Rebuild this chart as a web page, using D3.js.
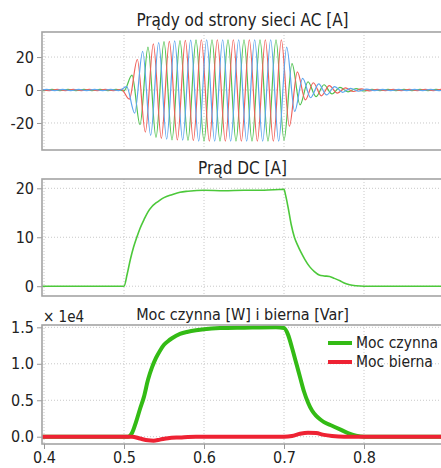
<!DOCTYPE html>
<html>
<head>
<meta charset="utf-8">
<script src="https://cdn.jsdelivr.net/npm/d3@7/dist/d3.min.js"></script>
<style>
  body { margin: 0; background: #fff; }
  svg { display: block; }
  text { font-family: "DejaVu Sans Condensed", "Liberation Sans", sans-serif; fill: #222; }
</style>
</head>
<body>
<svg width="441" height="468"></svg>
<script>
// time axis [s]
var timeRange = [0.3975, 0.89875];
var timeTicks = [0.4, 0.5, 0.6, 0.7, 0.8];

// --- panel 1: three-phase AC currents [A], signed peak values every half period
var acTicks = [-20, 0, 20];
var acHalfPeriod = 0.01;
var acPeakStart = [0.39, 0.39667, 0.39333];   // green, red, blue
var acGreen = [0.4,-0.4,0.4,-0.4,0.4,-0.4,0.4,-0.4,0.4,-0.4,0.4,-0.5,9,-21,26,-28.8,29.3,-30.2,30,-30.6,30.4,-31,30.5,-31,30.5,-31,30.5,-31,30.5,-31,30.5,-30.5,16,-9,5,-4,3.2,-2.4,1.6,-1.1,0.8,-0.6,0.4,-0.4,0.4,-0.4,0.4,-0.4,0.4,-0.4,0.4,-0.4];
var acRed   = [0.4,-0.4,0.4,-0.4,0.4,-0.4,0.4,-0.4,0.4,-0.4,0.4,-5.5,18.5,-25.5,28,-29.3,29.5,-30.3,30.1,-30.7,30.5,-31,30.5,-31,30.5,-31,30.5,-31,30.5,-31,30.5,-22,11,-6,4.4,-3.5,2.7,-1.9,1.3,-0.9,0.7,-0.5,0.4,-0.4,0.4,-0.4,0.4,-0.4,0.4,-0.4,0.4,-0.4];
var acBlue  = [-0.4,0.4,-0.4,0.4,-0.4,0.4,-0.4,0.4,-0.4,0.4,-0.4,2,-14,23.5,-27.5,28.8,-29.8,29.8,-30.4,30.3,-31,30.5,-31,30.5,-31,30.5,-31,30.5,-31,30.5,-31,26,-13,7,-4.7,3.7,-3,2.1,-1.4,1,-0.75,0.55,-0.4,0.4,-0.4,0.4,-0.4,0.4,-0.4,0.4,-0.4,0.4];

// --- panel 2: DC current [A]
var dcTicks = [0, 10, 20];
var dcTime = [0.3975,0.5,0.504,0.508,0.512,0.516,0.52,0.525,0.53,0.535,0.54,0.545,0.55,0.56,0.57,0.58,0.6,0.625,0.65,0.675,0.7,0.702,0.705,0.709,0.713,0.717,0.721,0.726,0.732,0.738,0.744,0.75,0.757,0.763,0.77,0.776,0.782,0.79,0.8,0.89875];
var dcCurrent = [0,0,2.5,5.5,8,10,11.8,13.6,15.2,16.3,17,17.6,18.1,18.7,19.2,19.4,19.6,19.5,19.6,19.6,19.8,18.6,16.2,12.6,10,8.4,7,5.5,4,3,2.3,2.1,2,1.6,1.1,0.6,0.3,0.1,0,0];

// --- panel 3: active [W] and reactive [Var] power
var powerTicks = [0, 5000, 10000, 15000];
var pTime = [0.3975,0.505,0.51,0.515,0.52,0.525,0.53,0.535,0.54,0.545,0.55,0.555,0.56,0.57,0.58,0.59,0.6,0.62,0.65,0.69,0.7,0.705,0.71,0.715,0.72,0.725,0.73,0.735,0.74,0.745,0.75,0.76,0.77,0.78,0.79,0.8,0.89875];
var pActive = [0,0,500,2000,3800,5500,7800,9500,10800,11800,12600,13100,13500,14100,14400,14600,14750,14900,14950,15000,14900,14000,12200,10200,8200,6200,4700,3600,2900,2400,2000,1500,1000,500,150,0,0];
var qTime = [0.3975,0.51,0.52,0.53,0.537,0.545,0.555,0.57,0.59,0.7,0.71,0.72,0.73,0.74,0.75,0.76,0.775,0.89875];
var qReactive = [0,0,-250,-500,-550,-400,-200,-100,0,0,100,400,550,500,250,100,0,0];

var seriesNames = ["Moc czynna", "Moc bierna"];
var colors = { acGreen: "#4fc24f", acRed: "#f0605a", acBlue: "#5ea6ee", dc: "#4cc83a", p: "#33bb15", q: "#ee2233" };

var svg = d3.select("svg");
var left = 42, right = 443;

var x = d3.scaleLinear().domain(timeRange).range([left, right]);

function intLabel(d) { return String(d); }   // plain hyphen for negatives, as in the original

function panel(top, bottom, yDomain, ticks, fmt, title, titleY, titleSize) {
  var y = d3.scaleLinear().domain(yDomain).range([bottom, top]);
  var g = svg.append("g");
  var clipId = "clip" + top;
  svg.append("clipPath").attr("id", clipId)
     .append("rect").attr("x", left).attr("y", top).attr("width", right - left).attr("height", bottom - top);

  // grid
  g.selectAll(".vg").data(timeTicks).enter().append("line")
   .attr("x1", function(d) { return x(d); }).attr("x2", function(d) { return x(d); })
   .attr("y1", top).attr("y2", bottom)
   .attr("stroke", "#c8c8c8").attr("stroke-dasharray", "1,2");
  g.selectAll(".hg").data(ticks).enter().append("line")
   .attr("x1", left).attr("x2", right)
   .attr("y1", function(d) { return y(d); }).attr("y2", function(d) { return y(d); })
   .attr("stroke", "#c8c8c8").attr("stroke-dasharray", "1,2");

  var ax = g.append("g")
   .attr("transform", "translate(" + left + ",0)")
   .call(d3.axisLeft(y).tickValues(ticks).tickFormat(fmt).tickSize(5).tickPadding(3));
  ax.select(".domain").remove();
  ax.selectAll("line").attr("stroke", "#999");
  ax.selectAll("text").attr("font-size", "16px").attr("fill", "#222");

  svg.append("text")
     .attr("x", (left + right) / 2).attr("y", titleY)
     .attr("text-anchor", "middle").attr("font-size", titleSize)
     .text(title);

  var plot = svg.append("g").attr("clip-path", "url(#" + clipId + ")");
  return { y: y, plot: plot, frame: function() {
    svg.append("rect").attr("x", left).attr("y", top).attr("width", right - left).attr("height", bottom - top)
       .attr("fill", "none").attr("stroke", "#a4a4a4").attr("stroke-width", 1.6);
  } };
}

// panel 1
var p1 = panel(32, 150, [-36.4, 35.2], acTicks, intLabel, "Prądy od strony sieci AC [A]", 26, "17px");
var acSeries = [[acGreen, acPeakStart[0], colors.acGreen], [acRed, acPeakStart[1], colors.acRed], [acBlue, acPeakStart[2], colors.acBlue]];
acSeries.forEach(function(s) {
  var line = d3.line()
    .x(function(d, i) { return x(s[1] + i * acHalfPeriod); })
    .y(function(d) { return p1.y(d); })
    .curve(d3.curveMonotoneX);
  p1.plot.append("path").datum(s[0])
    .attr("d", line).attr("fill", "none")
    .attr("stroke", s[2]).attr("stroke-width", 1.2);
});
p1.frame();

// panel 2
var p2 = panel(179, 296, [-2, 21.9], dcTicks, intLabel, "Prąd DC [A]", 174, "17px");
p2.plot.append("path").datum(dcCurrent)
  .attr("d", d3.line()
     .x(function(d, i) { return x(dcTime[i]); })
     .y(function(d) { return p2.y(d); })
     .curve(d3.curveMonotoneX))
  .attr("fill", "none").attr("stroke", colors.dc).attr("stroke-width", 1.6);
p2.frame();

// panel 3
var p3 = panel(325, 444, [-1000, 15320], powerTicks, function(d) { return (d / 1e4).toFixed(1); },
               "Moc czynna [W] i bierna [Var]", 320, "16px");
p3.plot.append("path").datum(pActive)
  .attr("d", d3.line()
     .x(function(d, i) { return x(pTime[i]); })
     .y(function(d) { return p3.y(d); })
     .curve(d3.curveMonotoneX))
  .attr("fill", "none").attr("stroke", colors.p).attr("stroke-width", 4).attr("stroke-linejoin", "round");
p3.plot.append("path").datum(qReactive)
  .attr("d", d3.line()
     .x(function(d, i) { return x(qTime[i]); })
     .y(function(d) { return p3.y(d); })
     .curve(d3.curveMonotoneX))
  .attr("fill", "none").attr("stroke", colors.q).attr("stroke-width", 4);
p3.frame();

var xa = svg.append("g")
  .attr("transform", "translate(0,444)")
  .call(d3.axisBottom(x).tickValues(timeTicks).tickFormat(d3.format(".1f")).tickSize(5).tickPadding(3));
xa.select(".domain").remove();
xa.selectAll("line").attr("stroke", "#999");
xa.selectAll("text").attr("font-size", "16px").attr("fill", "#222");

svg.append("text").attr("x", 43).attr("y", 322).attr("font-size", "15px").text("× 1e4");

// legend
var legend = svg.append("g").selectAll("g").data(seriesNames).enter().append("g")
  .attr("transform", function(d, i) { return "translate(328," + (343 + i * 19) + ")"; });
legend.append("line").attr("x1", 0).attr("x2", 24)
  .attr("stroke", function(d, i) { return i === 0 ? colors.p : colors.q; }).attr("stroke-width", 4);
legend.append("text").attr("x", 28).attr("dy", "0.35em").attr("font-size", "15.5px").text(function(d) { return d; });
</script>
</body>
</html>
